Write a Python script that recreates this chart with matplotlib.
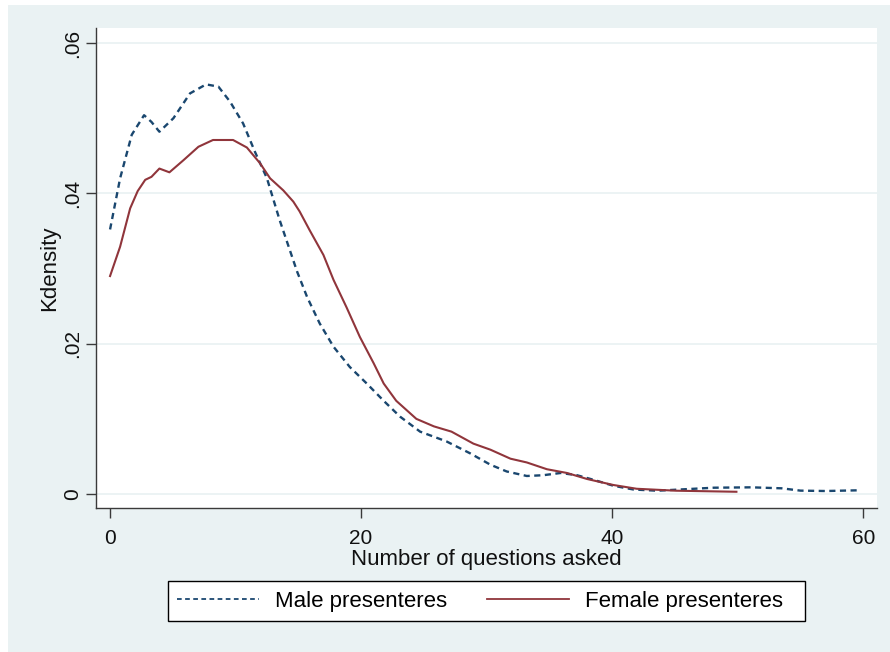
import numpy as np
import matplotlib
matplotlib.use('Agg')
import matplotlib.pyplot as plt
from matplotlib.patches import Rectangle

plt.rcParams['font.family'] = ['Liberation Sans', 'DejaVu Sans']

# kernel density of questions asked, by presenter gender
male_x = [0, 0.8, 1.73, 2.71, 3.3, 3.93, 5.05, 6.37, 7.65, 8.63, 9.56, 10.6,
          11.55, 12.5, 13.5, 14.9, 15.7, 16.7, 17.8, 19.1, 20.45, 21.8, 23.1,
          24.7, 26.8, 28.7, 30.3, 31.6, 33.2, 34.5, 35.9, 37.2, 38.5, 40.1,
          41.7, 43.6, 45.4, 48.1, 51.1, 53.5, 55, 57, 59.8]
male_y = [0.0352, 0.0420, 0.0478, 0.0504, 0.0495, 0.0482, 0.0500, 0.0533,
          0.0545, 0.0542, 0.0522, 0.0493, 0.0455, 0.0420, 0.0365, 0.0296,
          0.0262, 0.0227, 0.0196, 0.0169, 0.0147, 0.0124, 0.0103, 0.0083,
          0.0070, 0.0054, 0.0039, 0.0030, 0.0024, 0.0025, 0.0028, 0.0025,
          0.0019, 0.0011, 0.0006, 0.00044, 0.0006, 0.00084, 0.00089, 0.00076,
          0.00045, 0.0004, 0.0005]

female_x = [0, 0.8, 1.6, 2.2, 2.8, 3.3, 3.93, 4.73, 5.84, 7.04, 8.2, 9.8,
            10.9, 11.95, 12.75, 13.8, 14.6, 15.1, 15.9, 17.0, 17.8, 18.85,
            19.9, 21.0, 21.8, 22.8, 24.4, 25.8, 27.2, 28.95, 30.3, 31.9, 33.2,
            34.8, 36.4, 38.0, 40.1, 41.95, 45.1, 49.9]
female_y = [0.0290, 0.0329, 0.0380, 0.0403, 0.0418, 0.0422, 0.0433, 0.0428,
            0.0444, 0.0462, 0.0471, 0.0471, 0.0461, 0.0440, 0.0420, 0.0404,
            0.0389, 0.0376, 0.0351, 0.0318, 0.0285, 0.0248, 0.0209, 0.0174,
            0.0147, 0.0124, 0.0100, 0.0090, 0.0083, 0.0067, 0.0059, 0.0047,
            0.0042, 0.0033, 0.0028, 0.0020, 0.0012, 0.0007, 0.00044, 0.0003]

xticks = [0, 20, 40, 60]
yticks = [0, 0.02, 0.04, 0.06]
ytick_labels = ['0', '.02', '.04', '.06']

bg = '#eaf2f3'
navy = '#1a476f'
maroon = '#90353b'

W, H = 890, 652
fig = plt.figure(figsize=(W / 100, H / 100), dpi=100, facecolor='white')
fig.patches.append(Rectangle((8 / W, 0), 1 - 8 / W, 1 - 5 / H,
                             transform=fig.transFigure, facecolor=bg,
                             edgecolor='none', zorder=-10))

ax = fig.add_axes([96 / W, 1 - 508 / H, (877 - 96) / W, (508 - 28) / H])
ax.set_facecolor('white')

ax.plot(male_x, male_y, color=navy, lw=1.7, dashes=(2.6, 1.9),
        label='Male presenteres')
ax.plot(female_x, female_y, color=maroon, lw=1.5, label='Female presenteres')

ax.set_xlim(-1.12, 61.1)
ax.set_ylim(-0.00186, 0.062)
ax.set_xticks(xticks)
ax.set_yticks(yticks)
ax.set_yticklabels(ytick_labels, rotation=90, va='center')

ax.yaxis.grid(True, color=bg, lw=1.3)
ax.set_axisbelow(True)
for s in ['top', 'right']:
    ax.spines[s].set_visible(False)
for s in ['left', 'bottom']:
    ax.spines[s].set_color('#3a3a3a')
    ax.spines[s].set_linewidth(1.0)

ax.tick_params(axis='both', direction='out', length=7, width=1.0,
               color='#3a3a3a', labelsize=15, labelcolor='#111111')
ax.tick_params(axis='x', pad=8)
ax.tick_params(axis='y', pad=3)

ax.set_xlabel('Number of questions asked', fontsize=16, labelpad=1, color='#111111')
ax.set_ylabel('Kdensity', fontsize=16, labelpad=2, color='#111111')

# legend box drawn separately so its size is fixed
fig.patches.append(Rectangle((168 / W, 1 - 621 / H), (805 - 168) / W, 40 / H,
                             transform=fig.transFigure, facecolor='white',
                             edgecolor='black', lw=1.0, zorder=5))
leg = fig.legend(loc='center left', bbox_to_anchor=(177 / W, 1 - 601 / H),
                 ncol=2, fontsize=16, frameon=False,
                 handlelength=3.7, handletextpad=0.7, columnspacing=1.8,
                 borderpad=0, borderaxespad=0)
leg.set_zorder(6)
for line in leg.get_lines():
    line.set_linewidth(1.3)

fig.savefig('out.png', dpi=100, facecolor=fig.get_facecolor())
